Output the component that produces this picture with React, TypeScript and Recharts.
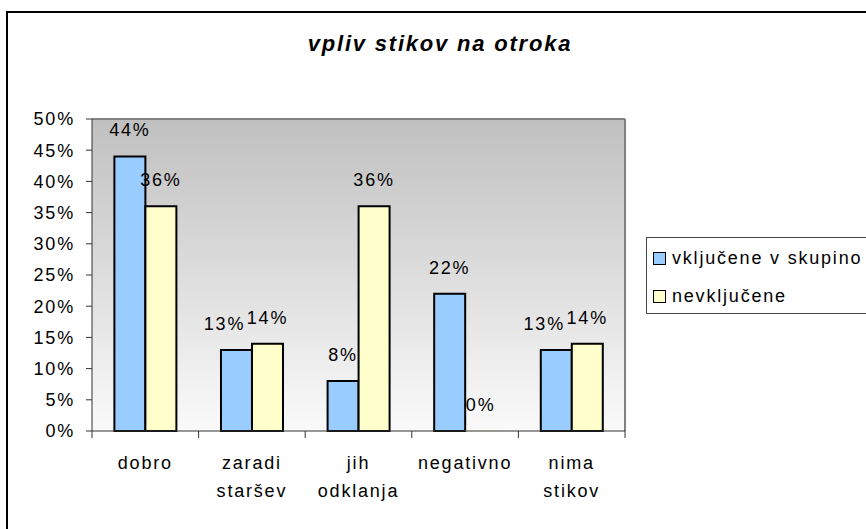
import React from 'react';
import { BarChart, Bar, XAxis, YAxis, CartesianGrid, Legend, LabelList, Cell } from 'recharts';

const categories = ['dobro', 'zaradi staršev', 'jih odklanja', 'negativno', 'nima stikov'];
const vkljucene = [0.44, 0.13, 0.08, 0.22, 0.13];
const nevkljucene = [0.36, 0.14, 0.36, 0, 0.14];
const seriesNames = ['vključene v skupino', 'nevključene'];
const seriesColors = ['#99CCFF', '#FFFFCC'];
const yTicks = [0, 0.05, 0.1, 0.15, 0.2, 0.25, 0.3, 0.35, 0.4, 0.45, 0.5];

const data = categories.map((name, i) => ({ name, a: vkljucene[i], b: nevkljucene[i] }));

const W = 866;
const H = 529;
const MARGIN = { top: 119, right: 241, left: 0, bottom: 8 };
const Y_AXIS_W = 92;
const BAND = (W - MARGIN.left - MARGIN.right - Y_AXIS_W) / categories.length;
const AXIS = '#333';
const FONT = "'Liberation Sans', Arial, sans-serif";

const pct = (v: number) => `${Math.round(v * 100)}%`;

const XTick = (props: any) => {
  const { x, y, payload, index } = props;
  const lines = String(payload.value).split(' ');
  return (
    <g>
      <line x1={x - BAND / 2} x2={x - BAND / 2} y1={y} y2={y + 7} stroke={AXIS} />
      {index === categories.length - 1 && (
        <line x1={x + BAND / 2} x2={x + BAND / 2} y1={y} y2={y + 7} stroke={AXIS} />
      )}
      <text x={x} y={y + 38} textAnchor="middle" fontSize={18} fill="#000">
        {lines.map((l, i) => (
          <tspan key={i} x={x} dy={i === 0 ? 0 : 28}>
            {l}
          </tspan>
        ))}
      </text>
    </g>
  );
};

// labels of neighbouring bars with near values get pushed apart, like Excel does
const makeLabel = (own: number[], other: number[], shift: number) => (p: any) => {
  const { x, y, width, value } = p;
  const i = categories.indexOf(value);
  if (i < 0) return null;
  const close = Math.abs(own[i] - other[i]) < 0.03;
  return (
    <text x={x + width / 2 + (close ? shift : 0)} y={y - 20} textAnchor="middle" fontSize={18} fill="#000">
      {pct(own[i])}
    </text>
  );
};

// zero values still need a (hidden) rect so their label is drawn
const minSize = (v: number) => (v === 0 ? 0.5 : 0);

const LegendBox = () => (
  <div
    style={{
      position: 'relative',
      width: 240,
      height: 77,
      border: '1px solid #444',
      background: '#fff',
      boxSizing: 'border-box',
      fontSize: 18,
      color: '#000',
    }}
  >
    {seriesNames.map((n, i) => (
      <div key={n} style={{ position: 'absolute', left: 6, top: 9 + i * 38, display: 'flex', alignItems: 'center', lineHeight: '22px' }}>
        <span
          style={{
            display: 'inline-block',
            width: 11,
            height: 11,
            background: seriesColors[i],
            border: '1.5px solid #000',
            marginRight: 6,
          }}
        />
        <span>{n}</span>
      </div>
    ))}
  </div>
);

export default function App() {
  return (
    <div style={{ position: 'relative', width: W, height: H, overflow: 'hidden', background: '#fff', fontFamily: FONT, letterSpacing: '1.8px' }}>
      <style>{'body{margin:0}'}</style>
      <div style={{ position: 'absolute', left: 6, top: 11, width: 1000, height: 1000, border: '2px solid #000' }} />
      <div
        style={{
          position: 'absolute',
          left: 0,
          top: 33,
          width: 880,
          textAlign: 'center',
          fontSize: 22,
          lineHeight: '22px',
          fontWeight: 'bold',
          fontStyle: 'italic',
        }}
      >
        vpliv stikov na otroka
      </div>
      <div style={{ position: 'absolute', left: 0, top: 0 }}>
        <BarChart width={W} height={H} data={data} margin={MARGIN} barCategoryGap="21%" barGap={0}>
          <defs>
            <linearGradient id="plotBg" x1="0" y1="0" x2="0" y2="1">
              <stop offset="0%" stopColor="#c0c0c0" />
              <stop offset="100%" stopColor="#fafafa" />
            </linearGradient>
          </defs>
          <CartesianGrid
            fill="url(#plotBg)"
            stroke="#808080"
            strokeWidth={2}
            horizontalCoordinatesGenerator={({ offset }: any) => [offset.top]}
            verticalCoordinatesGenerator={({ offset }: any) => [offset.left + offset.width]}
          />
          <XAxis
            dataKey="name"
            interval={0}
            height={90}
            tickSize={0}
            tickMargin={0}
            tickLine={false}
            axisLine={{ stroke: AXIS }}
            tick={<XTick />}
          />
          <YAxis
            width={Y_AXIS_W}
            domain={[0, 0.5]}
            ticks={yTicks}
            tickFormatter={pct}
            tickSize={6}
            tickMargin={11}
            tickLine={{ stroke: AXIS }}
            axisLine={{ stroke: AXIS }}
            tick={{ fill: '#000', fontSize: 18 }}
          />
          <Legend
            layout="vertical"
            align="center"
            verticalAlign="middle"
            content={<LegendBox />}
            wrapperStyle={{ left: 646, top: 237, width: 240, height: 77 }}
          />
          <Bar dataKey="a" name={seriesNames[0]} fill={seriesColors[0]} stroke="#000" strokeWidth={2} minPointSize={minSize} isAnimationActive={false}>
            {vkljucene.map((v, i) => (
              <Cell key={i} stroke={v === 0 ? 'none' : '#000'} />
            ))}
            <LabelList dataKey="name" content={makeLabel(vkljucene, nevkljucene, -12)} />
          </Bar>
          <Bar dataKey="b" name={seriesNames[1]} fill={seriesColors[1]} stroke="#000" strokeWidth={2} minPointSize={minSize} isAnimationActive={false}>
            {nevkljucene.map((v, i) => (
              <Cell key={i} stroke={v === 0 ? 'none' : '#000'} />
            ))}
            <LabelList dataKey="name" content={makeLabel(nevkljucene, vkljucene, 0)} />
          </Bar>
        </BarChart>
      </div>
    </div>
  );
}
